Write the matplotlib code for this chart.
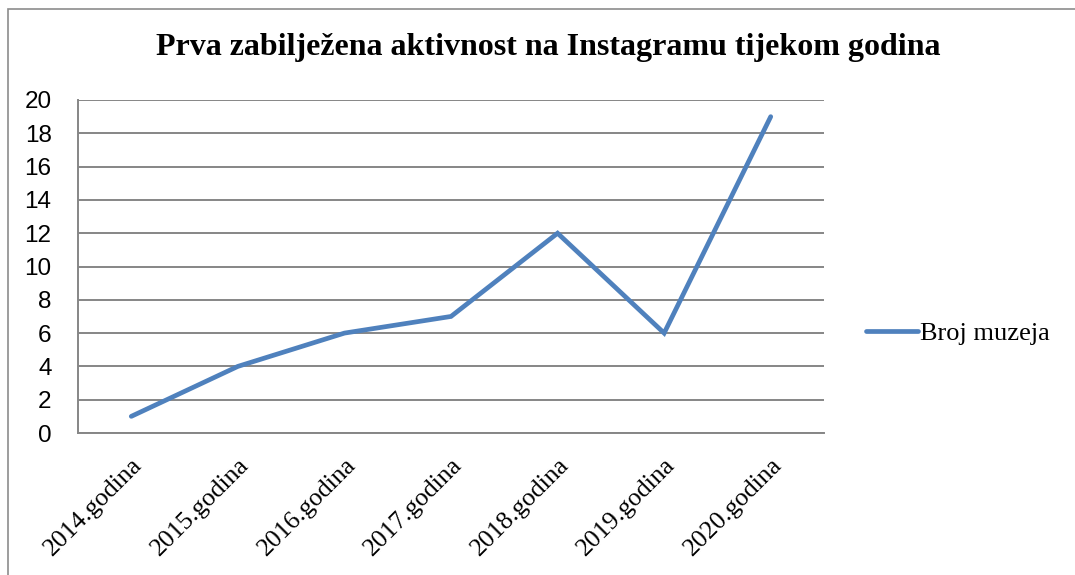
import matplotlib.pyplot as plt
from matplotlib.patches import Rectangle

# --- Data ---
categories = ['2014.godina', '2015.godina', '2016.godina', '2017.godina',
              '2018.godina', '2019.godina', '2020.godina']
broj_muzeja = [1, 4, 6, 7, 12, 6, 19]
y_ticks = list(range(0, 21, 2))

SERIF = ['Liberation Serif', 'DejaVu Serif']
SANS = ['Liberation Sans', 'DejaVu Sans']
LINE_COLOR = '#4F81BD'
GRID_COLOR = '#868686'


def main():
    W, H = 1075, 575
    fig = plt.figure(figsize=(W / 100, H / 100), dpi=100)

    # outer chart border (Excel-style)
    fig.patches.append(Rectangle((8 / W, -0.05), 1.1, 1 - 9 / H + 0.05,
                                 transform=fig.transFigure, fill=False,
                                 edgecolor='#8c8c8c', linewidth=1.2))

    ax = fig.add_axes([78 / W, 1 - 433 / H, (824 - 78) / W, (433 - 100) / H])
    x = list(range(len(categories)))
    ax.plot(x, broj_muzeja, color=LINE_COLOR, linewidth=3.4,
            solid_capstyle='round', solid_joinstyle='miter', label='Broj muzeja')

    ax.set_xlim(-0.5, len(categories) - 0.5)
    ax.set_ylim(0, 20)
    ax.set_yticks(y_ticks)
    ax.set_yticklabels([str(v) for v in y_ticks], family=SANS, fontsize=17.5)
    ax.set_xticks(x)
    ax.set_xticklabels(categories, family=SERIF, fontsize=18.5,
                       rotation=45, ha='right', va='top', rotation_mode='anchor')
    ax.tick_params(axis='both', length=0)
    ax.tick_params(axis='y', pad=19)
    ax.tick_params(axis='x', pad=15)

    ax.grid(axis='y', color=GRID_COLOR, linewidth=1.4)
    ax.set_axisbelow(True)
    for s in ['top', 'right']:
        ax.spines[s].set_visible(False)
    ax.spines['left'].set_color(GRID_COLOR)
    ax.spines['left'].set_linewidth(1.4)
    ax.spines['bottom'].set_color(GRID_COLOR)
    ax.spines['bottom'].set_linewidth(1.4)

    fig.text(548 / W, 1 - 48 / H,
             'Prva zabilježena aktivnost na Instagramu tijekom godina',
             family=SERIF, fontsize=23, fontweight='bold',
             ha='center', va='center')

    ax.legend(loc='center left', bbox_to_anchor=(855 / W, 1 - 333 / H),
              bbox_transform=fig.transFigure, frameon=False,
              prop={'family': SERIF, 'size': 19}, handlelength=2.0,
              handletextpad=0.05, borderaxespad=0)

    fig.savefig('out.png', dpi=100)


if __name__ == '__main__':
    main()
